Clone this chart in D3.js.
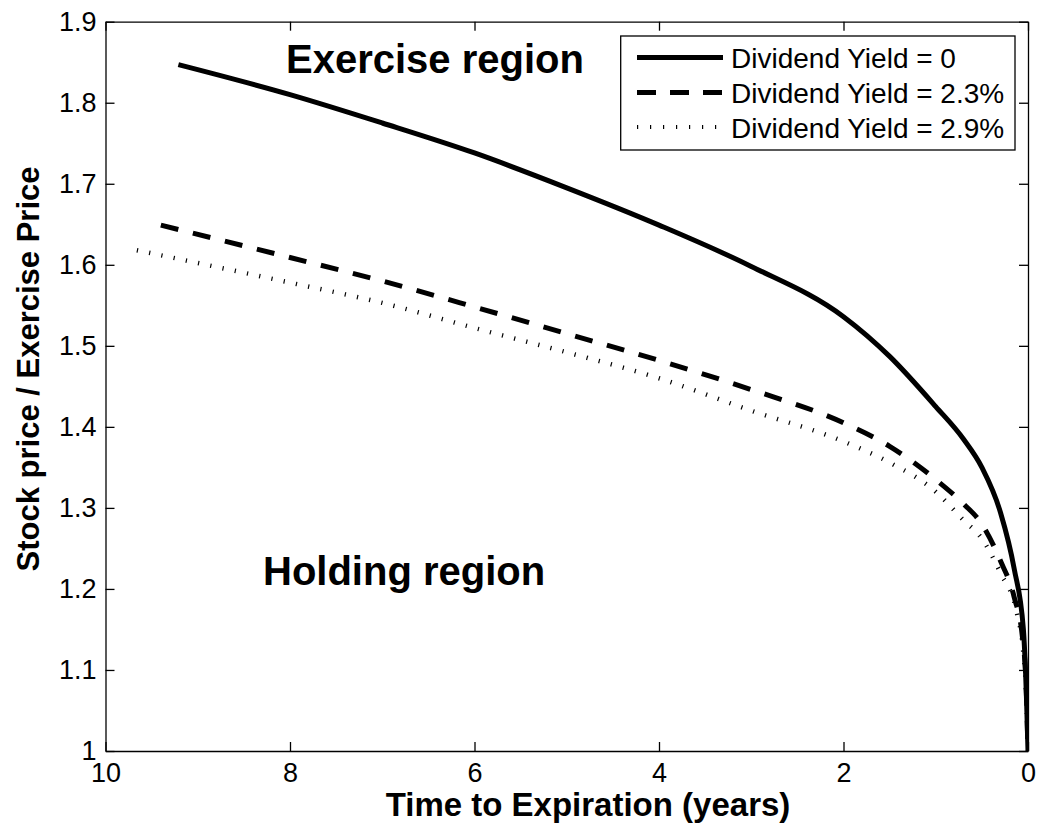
<!DOCTYPE html>
<html>
<head>
<meta charset="utf-8">
<script src="https://cdn.jsdelivr.net/npm/d3@7/dist/d3.min.js"></script>
<style>
  html, body { margin: 0; padding: 0; background: #fff; }
  svg { display: block; font-family: "Liberation Sans", Arial, Helvetica, sans-serif; }
</style>
</head>
<body>
<svg id="chart" width="1039" height="829"></svg>
<script>
// ---- data ----
const seriesNames = ["Dividend Yield = 0", "Dividend Yield = 2.3%", "Dividend Yield = 2.9%"];

const tSolid = [9.21, 8, 7, 6, 5, 4, 3, 2, 1.5, 1.0, 0.7, 0.5, 0.3, 0.15, 0.05, 0.015, 0];
const vSolid = [1.847, 1.810, 1.775, 1.738, 1.695, 1.649, 1.598, 1.536, 1.487, 1.425, 1.385, 1.350, 1.295, 1.225, 1.150, 1.060, 1.0];

const tDash = [9.40, 8, 7, 6, 5, 4, 3, 2, 1.5, 1.0, 0.7, 0.5, 0.3, 0.15, 0.06, 0.02, 0];
const vDash = [1.649, 1.609, 1.580, 1.548, 1.515, 1.482, 1.446, 1.405, 1.376, 1.335, 1.305, 1.280, 1.235, 1.190, 1.140, 1.080, 1.0];

const tDot = [9.66, 8, 7, 6, 5, 4, 3, 2, 1.5, 1.0, 0.7, 0.5, 0.3, 0.12, 0.05, 0.02, 0];
const vDot = [1.618, 1.578, 1.553, 1.522, 1.492, 1.460, 1.420, 1.382, 1.356, 1.320, 1.285, 1.262, 1.220, 1.170, 1.120, 1.070, 1.0];

const xTicks = [10, 8, 6, 4, 2, 0];
const xTickLabels = ["10", "8", "6", "4", "2", "0"];
const yTicks = [1, 1.1, 1.2, 1.3, 1.4, 1.5, 1.6, 1.7, 1.8, 1.9];
const yTickLabels = ["1", "1.1", "1.2", "1.3", "1.4", "1.5", "1.6", "1.7", "1.8", "1.9"];

const xTitle = "Time to Expiration (years)";
const yTitle = "Stock price / Exercise Price";
const annotations = ["Exercise region", "Holding region"];

// ---- layout ----
const svg = d3.select("#chart");
const L = 105.5, R = 1028, T = 21.7, B = 751;
const x = d3.scaleLinear().domain([10, 0]).range([L, R]);
const y = d3.scaleLinear().domain([1, 1.9]).range([B, T]);

const styles = [
  { width: 5, dash: null },
  { width: 5, dash: "18,15" },
  { width: 4.5, dash: "1.2,11.3" }
];
const series = [
  tSolid.map((t, i) => [t, vSolid[i]]),
  tDash.map((t, i) => [t, vDash[i]]),
  tDot.map((t, i) => [t, vDot[i]])
];

// curves
const line = d3.line().x(d => x(d[0])).y(d => y(d[1])).curve(d3.curveMonotoneX);
svg.append("clipPath").attr("id", "clip").append("rect")
  .attr("x", L).attr("y", T).attr("width", R - L).attr("height", B - T);
[2, 1, 0].forEach(i => {
  svg.append("path").datum(series[i])
    .attr("d", line)
    .attr("fill", "none")
    .attr("stroke", "#000")
    .attr("stroke-width", styles[i].width)
    .attr("stroke-dasharray", styles[i].dash)
    .attr("stroke-linejoin", "round")
    .attr("clip-path", "url(#clip)");
});

// axes
const axisW = 1.3;
function styleAxis(g) {
  g.attr("font-family", null).attr("font-size", null);
  g.selectAll("path.domain").attr("stroke", "#000").attr("stroke-width", axisW);
  g.selectAll(".tick line").attr("stroke", "#000").attr("stroke-width", axisW);
  g.selectAll(".tick text").attr("fill", "#000").style("font-size", "27px");
}
svg.append("g").attr("transform", `translate(0,${B})`)
  .call(d3.axisBottom(x).tickValues(xTicks).tickFormat((d, i) => xTickLabels[i])
    .tickSizeInner(-9).tickSizeOuter(0).tickPadding(12))
  .call(styleAxis);
svg.append("g").attr("transform", `translate(0,${T})`)
  .call(d3.axisTop(x).tickValues(xTicks).tickFormat("").tickSizeInner(-9).tickSizeOuter(0))
  .call(styleAxis);
svg.append("g").attr("transform", `translate(${L},0)`)
  .call(d3.axisLeft(y).tickValues(yTicks).tickFormat((d, i) => yTickLabels[i])
    .tickSizeInner(-9).tickSizeOuter(0).tickPadding(9))
  .call(styleAxis);
svg.append("g").attr("transform", `translate(${R},0)`)
  .call(d3.axisRight(y).tickValues(yTicks).tickFormat("").tickSizeInner(-9).tickSizeOuter(0))
  .call(styleAxis);

// titles
svg.append("text").attr("x", 588).attr("y", 816)
  .attr("text-anchor", "middle").style("font-weight", "bold").style("font-size", "33px")
  .text(xTitle);
svg.append("text").attr("transform", `translate(38.5,369) rotate(-90)`)
  .attr("text-anchor", "middle").style("font-weight", "bold").style("font-size", "31px")
  .text(yTitle);

// annotations
svg.append("text").attr("x", 286).attr("y", 73).style("font-weight", "bold").style("font-size", "40px")
  .text(annotations[0]);
svg.append("text").attr("x", 263).attr("y", 585).style("font-weight", "bold").style("font-size", "40px")
  .text(annotations[1]);

// legend
const lg = svg.append("g");
lg.append("rect").attr("x", 620.7).attr("y", 36).attr("width", 1015 - 620.7).attr("height", 114)
  .attr("fill", "#fff").attr("stroke", "#000").attr("stroke-width", axisW);
const rowY = [57.5, 92.5, 127];
seriesNames.forEach((name, i) => {
  lg.append("line").attr("x1", 637).attr("x2", 723).attr("y1", rowY[i]).attr("y2", rowY[i])
    .attr("stroke", "#000").attr("stroke-width", i === 2 ? 4 : styles[i].width)
    .attr("stroke-dasharray", i === 1 ? "19,14" : (i === 2 ? "1.2,11.8" : null));
  lg.append("text").attr("x", 731).attr("y", rowY[i] + 10.5)
    .style("font-size", "28px").text(name);
});
</script>
</body>
</html>
